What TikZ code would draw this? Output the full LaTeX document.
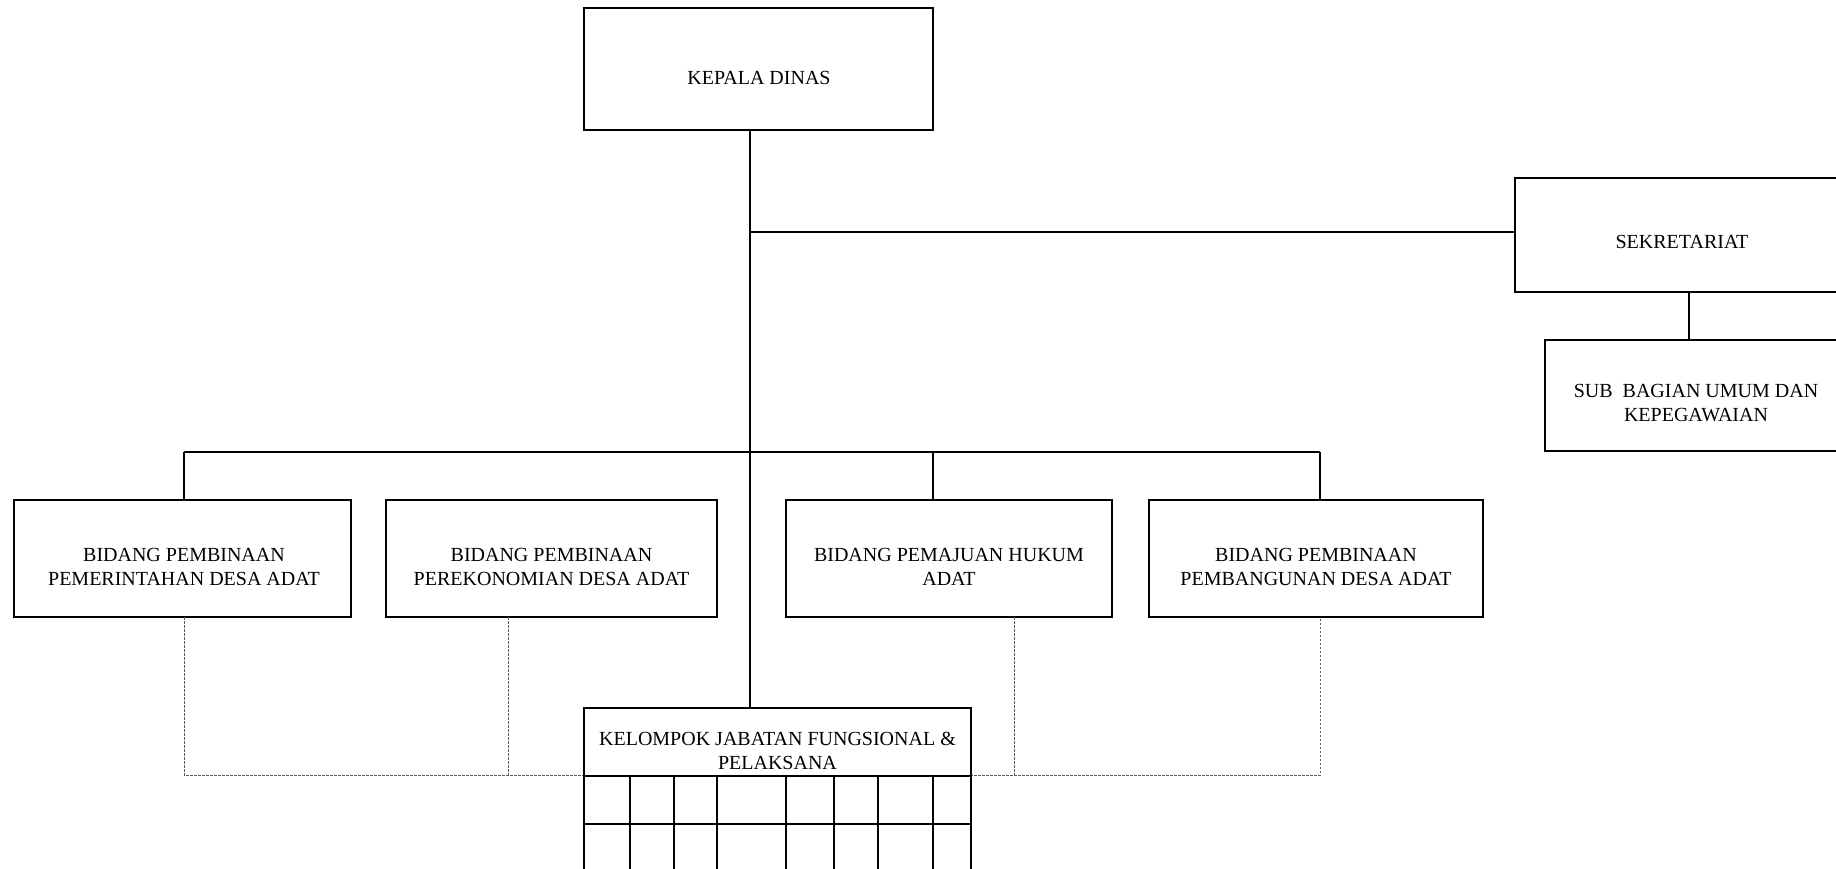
\documentclass[tikz,border=0pt]{standalone}
\usepackage{fontspec}
\setmainfont{Liberation Serif}
\begin{document}
\begin{tikzpicture}[x=1pt,y=-1pt,
  box/.style={draw,line width=1.8pt,inner sep=0pt,outer sep=0pt},
  lbl/.style={font=\fontsize{20}{24.6}\selectfont,align=center,inner sep=0pt},
  link/.style={line width=1.8pt},
  dotlink/.style={line width=1pt,draw=black!65,dash pattern=on 2.5pt off 1.5pt}]
\useasboundingbox (0,0) rectangle (1836,869);
\clip (0,0) rectangle (1836,869);

% junction points of the connector tree
\coordinate (trunk) at (750,0);
\coordinate (sekin) at (1515,232);
\coordinate (subx) at (1689,0);
\coordinate (bus) at (0,452);
\coordinate (dotrow) at (0,775);

% boxes
\node[box,minimum width=349pt,minimum height=122pt] (kepala) at (758.5,69) {};
\node[box,minimum width=332pt,minimum height=114pt] (sek) at (1681,235) {};
\node[box,minimum width=302pt,minimum height=111pt] (sub) at (1696,395.5) {};
\node[box,minimum width=337pt,minimum height=117pt] (b1) at (182.5,558.5) {};
\node[box,minimum width=331pt,minimum height=117pt] (b2) at (551.5,558.5) {};
\node[box,minimum width=326pt,minimum height=117pt] (b3) at (949,558.5) {};
\node[box,minimum width=334pt,minimum height=117pt] (b4) at (1316,558.5) {};

% dotted links from the divisions to the functional group
\draw[dotlink] (b1.south -| 184,0) |- (dotrow -| 1320,0) -- (b4.south -| 1320,0);
\draw[dotlink] (b2.south -| 508,0) -- (dotrow -| 508,0);
\draw[dotlink] (b3.south -| 1014,0) -- (dotrow -| 1014,0);

\node[box,fill=white,minimum width=387pt,minimum height=68pt] (kel) at (777.5,742) {};

% grid under the functional group
\foreach \gx [count=\gi] in {584,630,674,717,786,834,878,933,971}
  \draw[link] (kel.south -| \gx,0) -- (\gx,880);
\draw[link] (kel.south west) ++(0,48) coordinate (gridrow) -- (gridrow -| kel.east);

% labels
\node[lbl] (tkepala) at (759,78) {KEPALA DINAS};
\node[lbl] (tsek) at (1682,242) {SEKRETARIAT};
\node[lbl] (tsub) at (1696,403) {SUB\ \ BAGIAN UMUM DAN\\KEPEGAWAIAN};
\node[lbl] (tb1) at (184,567) {BIDANG PEMBINAAN\\PEMERINTAHAN DESA ADAT};
\node[lbl] (tb2) at (551.5,567) {BIDANG PEMBINAAN\\PEREKONOMIAN DESA ADAT};
\node[lbl] (tb3) at (949,567) {BIDANG PEMAJUAN HUKUM\\ADAT};
\node[lbl] (tb4) at (1316,567) {BIDANG PEMBINAAN\\PEMBANGUNAN DESA ADAT};
\node[lbl,font=\fontsize{20}{23.4}\selectfont] (tkel) at (777.5,751) {KELOMPOK JABATAN FUNGSIONAL \&\\PELAKSANA};

% solid hierarchy links
\draw[link] (kepala.south -| trunk) -- (kel.north -| trunk);
\draw[link] (sekin -| trunk) -- (sekin);
\draw[link] (sek.south -| subx) -- (sub.north -| subx);
\draw[link] (bus -| 184,0) -- (bus -| 1320,0);
\draw[link] (bus -| 184,0) -- (b1.north -| 184,0);
\draw[link] (bus -| 933,0) -- (b3.north -| 933,0);
\draw[link] (bus -| 1320,0) -- (b4.north -| 1320,0);
\end{tikzpicture}
\end{document}
